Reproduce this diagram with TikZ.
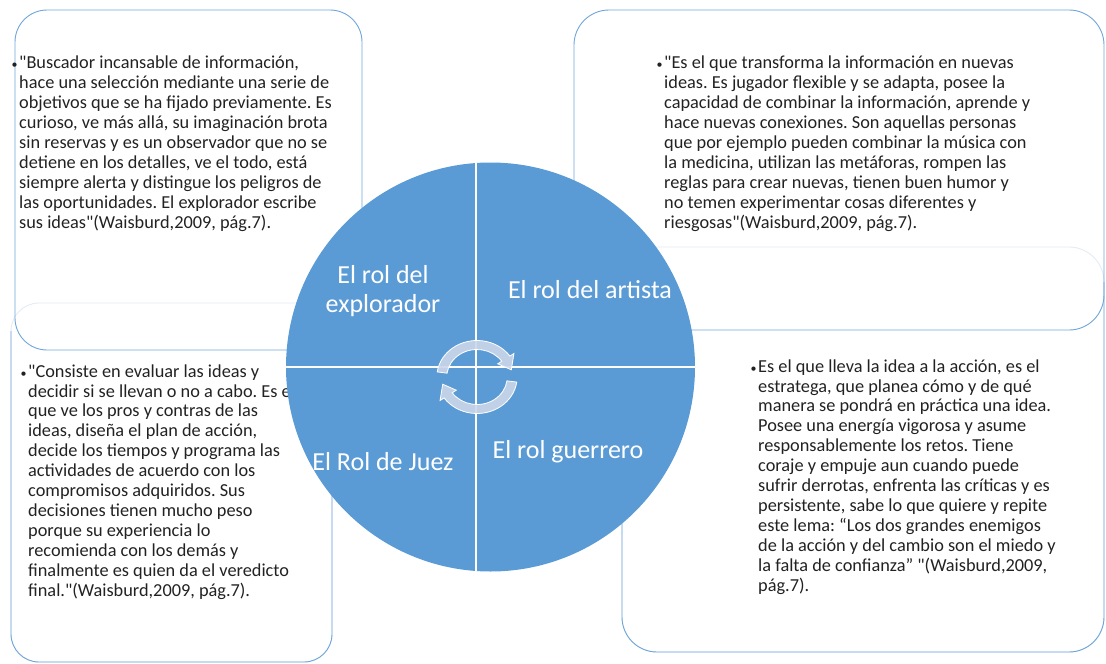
\documentclass[tikz,border=0pt]{standalone}
\usepackage{fontspec}
\setmainfont{Carlito}[Ligatures=TeXOff]
\frenchspacing

\begin{document}
\begin{tikzpicture}[x=1pt, y=-1pt,
    quotetext/.style={anchor=base west, inner sep=0pt, align=left, text=textColour,
        font=\fontsize{18.3}{19.9}\selectfont},
    rollabel/.style={anchor=base, inner sep=0pt, align=center, text=white,
        font=\fontsize{26}{28.5}\selectfont},
    boxline/.style={draw=boxColour, line width=0.9pt},
    faintline/.style={draw=faintColour, line width=0.9pt}]
    % Define colours
    \definecolor{circleColour}{HTML}{5B9BD5}
    \definecolor{boxColour}{HTML}{6FA6DA}
    \definecolor{faintColour}{HTML}{E4EBF3}
    \definecolor{textColour}{HTML}{222222}
    \definecolor{arrowColour}{HTML}{CBD7EA}

    % Define circle size and bullet
    \def\circleRadius{204.5}
    \def\qbullet{\llap{\fontsize{12}{12}\selectfont\textbullet\hspace{1.5pt}}}

    \useasboundingbox (0,0) rectangle (1106,664);

    % Draw lower boxes (faint top edge)
    \draw[faintline, rounded corners=28] (11,303) rectangle (332,662);
    \draw[boxline, rounded corners=28] (11,331) -- (11,662) -- (332,662) -- (332,331);
    \draw[faintline, rounded corners=35] (622,247) rectangle (1104,652);
    \draw[boxline, rounded corners=35] (622,282) -- (622,652) -- (1104,652) -- (1104,282);

    % Draw upper boxes
    \draw[boxline, rounded corners=32] (15,10) rectangle (362,350);
    \draw[boxline, rounded corners=35] (574,10) rectangle (1104,330);

    % Texts of the roles (anchored at the last baseline)
    \node[quotetext] (explorador) at (19,228) {\qbullet"Buscador incansable de información,\\
        hace una selección mediante una serie de\\
        objetivos que se ha fijado previamente. Es\\
        curioso, ve más allá, su imaginación brota\\
        sin reservas y es un observador que no se\\
        detiene en los detalles, ve el todo, está\\
        siempre alerta y distingue los peligros de\\
        las oportunidades. El explorador escribe\\
        sus ideas"(Waisburd,2009, pág.7).};
    \node[quotetext] (artista) at (664,228) {\qbullet"Es el que transforma la información en nuevas\\
        ideas. Es jugador flexible y se adapta, posee la\\
        capacidad de combinar la información, aprende y\\
        hace nuevas conexiones. Son aquellas personas\\
        que por ejemplo pueden combinar la música con\\
        la medicina, utilizan las metáforas, rompen las\\
        reglas para crear nuevas, tienen buen humor y\\
        no temen experimentar cosas diferentes y\\
        riesgosas"(Waisburd,2009, pág.7).};
    \node[quotetext] (juez) at (28,596) {\qbullet"Consiste en evaluar las ideas y\\
        decidir si se llevan o no a cabo. Es el\\
        que ve los pros y contras de las\\
        ideas, diseña el plan de acción,\\
        decide los tiempos y programa las\\
        actividades de acuerdo con los\\
        compromisos adquiridos. Sus\\
        decisiones tienen mucho peso\\
        porque su experiencia lo\\
        recomienda con los demás y\\
        finalmente es quien da el veredicto\\
        final."(Waisburd,2009, pág.7).};
    \node[quotetext] (guerrero) at (758,591) {\qbullet Es el que lleva la idea a la acción, es el\\
        estratega, que planea cómo y de qué\\
        manera se pondrá en práctica una idea.\\
        Posee una energía vigorosa y asume\\
        responsablemente los retos. Tiene\\
        coraje y empuje aun cuando puede\\
        sufrir derrotas, enfrenta las críticas y es\\
        persistente, sabe lo que quiere y repite\\
        este lema: “Los dos grandes enemigos\\
        de la acción y del cambio son el miedo y\\
        la falta de confianza” "(Waisburd,2009,\\
        pág.7).};

    % Draw circle and its quarters
    \coordinate (C) at (490.5,367);
    \fill[circleColour] (C) circle (\circleRadius);
    \begin{scope}
        \clip (C) circle (\circleRadius);
        \draw[white, line width=1.5pt] (476,150) -- (476,590);
        \draw[white, line width=1.5pt] (270,367) -- (710,367);
    \end{scope}

    % Label the quarters
    \node[rollabel] (rolExplorador) at (383,312) {El rol del\\explorador};
    \node[rollabel] (rolArtista) at (590,298) {El rol del artista};
    \node[rollabel] (rolJuez) at (383,470) {El Rol de Juez};
    \node[rollabel] (rolGuerrero) at (568,458) {El rol guerrero};

    % Draw cycle arrows
    \foreach \turn in {0,180}
    {
        \begin{scope}[shift={(477,377)}, y=1pt, xscale=1.1, rotate=\turn]
            \filldraw[fill=arrowColour, draw=white, line width=0.8pt, fill opacity=0.9]
                (172:36.5) arc[start angle=172, end angle=35, radius=36.5]
                -- (35:41) -- (13:32) -- (35:23) -- (35:27.5)
                arc[start angle=35, end angle=172, radius=27.5] -- cycle;
        \end{scope}
    }

\end{tikzpicture}
\end{document}
